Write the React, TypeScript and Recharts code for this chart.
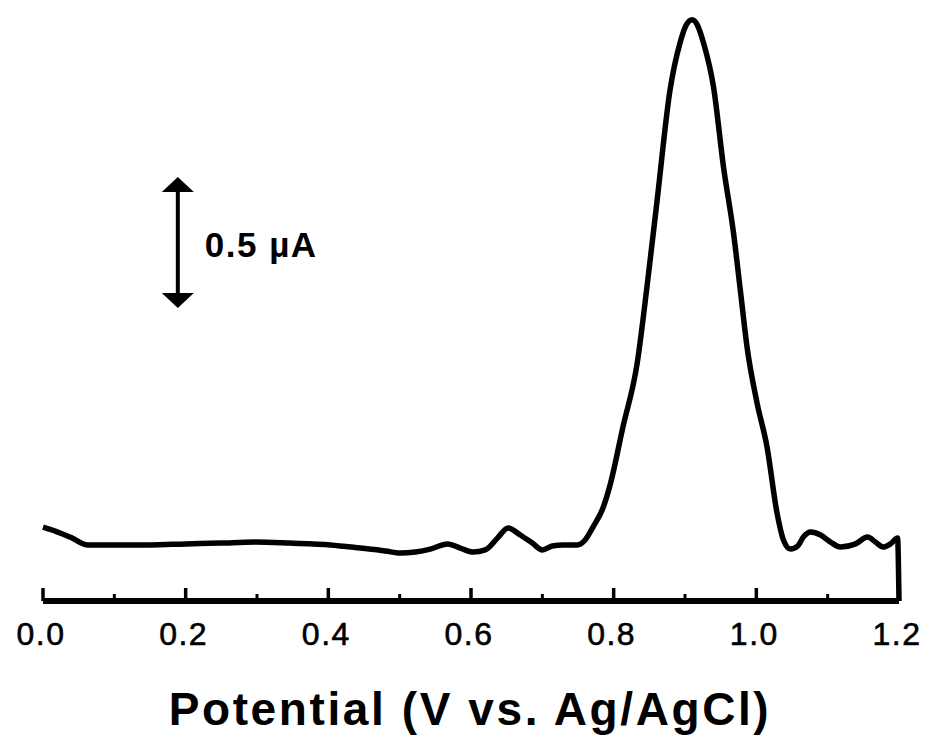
import { LineChart, Line, XAxis, YAxis, ReferenceLine } from 'recharts';

// potential (V vs Ag/AgCl) and current (µA, arbitrary offset)
const potential = [
  0.0, 0.017, 0.038, 0.063, 0.108, 0.15, 0.2, 0.248, 0.297, 0.346, 0.403, 0.445, 0.48, 0.501,
  0.522, 0.543, 0.567, 0.585, 0.603, 0.62, 0.637, 0.652, 0.669, 0.686, 0.7, 0.714, 0.729,
  0.749, 0.76, 0.771, 0.785, 0.795, 0.813, 0.833, 0.847, 0.861, 0.879, 0.893, 0.902, 0.91,
  0.917, 0.926, 0.94, 0.954, 0.968, 0.978, 0.987, 1.001, 1.015, 1.029, 1.038, 1.048, 1.058,
  1.066, 1.076, 1.09, 1.104, 1.118, 1.139, 1.156, 1.167, 1.178, 1.188, 1.198, 1.2,
];
const current = [
  0.282, 0.267, 0.244, 0.214, 0.214, 0.214, 0.218, 0.221, 0.225, 0.221, 0.214, 0.202, 0.191,
  0.183, 0.187, 0.198, 0.218, 0.202, 0.187, 0.195, 0.24, 0.279, 0.252, 0.221, 0.195, 0.21,
  0.214, 0.214, 0.233, 0.282, 0.355, 0.443, 0.664, 0.908, 1.206, 1.531, 1.95, 2.13, 2.2,
  2.218, 2.2, 2.13, 1.962, 1.656, 1.405, 1.176, 0.969, 0.756, 0.588, 0.336, 0.233, 0.198,
  0.21, 0.244, 0.263, 0.252, 0.225, 0.206, 0.218, 0.244, 0.225, 0.206, 0.218, 0.24, 0.0,
];

const xTicks = [0, 0.1, 0.2, 0.3, 0.4, 0.5, 0.6, 0.7, 0.8, 0.9, 1.0, 1.1, 1.2];
const majorTicks = [0, 0.2, 0.4, 0.6, 0.8, 1.0, 1.2];

// scale bar: 0.5 µA
const barX = 0.189;
const barFrom = 1.118;
const barTo = 1.618;
const barLabel = '0.5 µA';

const data = potential.map((v, i) => ({ v, i: current[i] }));

const font = '"Liberation Sans", Arial, sans-serif';

function Tick(props: any) {
  const { x, y, payload } = props;
  const val = payload.value;
  const major = majorTicks.some((m) => Math.abs(m - val) < 1e-6);
  return (
    <g>
      <line
        x1={x}
        x2={x}
        y1={y}
        y2={major ? y - 13 : y - 7}
        stroke="#000"
        strokeWidth={major ? 3.5 : 3}
      />
      {major && (
        <text
          x={x - 2}
          y={y + 44}
          textAnchor="middle"
          fontFamily={font}
          fontSize={32}
          letterSpacing={1.5}
          fill="#000"
          stroke="#000"
          strokeWidth={0.6}
        >
          {val.toFixed(1)}
        </text>
      )}
    </g>
  );
}

function ScaleBar(props: any) {
  const { x1, y1, y2 } = props;
  const top = Math.min(y1, y2);
  const bot = Math.max(y1, y2);
  const h = 15;
  const w = 16;
  return (
    <g>
      <line x1={x1} x2={x1} y1={top + h - 2} y2={bot - h + 2} stroke="#000" strokeWidth={4} />
      <polygon points={`${x1},${top} ${x1 - w},${top + h} ${x1 + w},${top + h}`} fill="#000" />
      <polygon points={`${x1},${bot} ${x1 - w},${bot - h} ${x1 + w},${bot - h}`} fill="#000" />
      <text
        x={x1 + 27}
        y={(top + bot) / 2 + 14}
        fontFamily={font}
        fontSize={35}
        fontWeight="bold"
        letterSpacing={1.5}
        fill="#000"
      >
        {barLabel}
      </text>
    </g>
  );
}

function AxisTitle(props: any) {
  const { viewBox } = props;
  return (
    <text
      x={viewBox.x + viewBox.width / 2 - 1}
      y={viewBox.y + 124}
      textAnchor="middle"
      fontFamily={font}
      fontSize={46}
      fontWeight="bold"
      letterSpacing={2.6}
      fill="#000"
    >
      Potential (V vs. Ag/AgCl)
    </text>
  );
}

export default function App() {
  return (
    <div style={{ position: 'absolute', left: 0, top: 0, background: '#fff' }}>
      <LineChart
        width={927}
        height={736}
        data={data}
        margin={{ top: 1, right: 28, bottom: 35, left: 43 }}
      >
        <XAxis
          dataKey="v"
          type="number"
          domain={[0, 1.2]}
          ticks={xTicks}
          interval={0}
          tickSize={0}
          tickMargin={0}
          height={100}
          axisLine={{ stroke: '#000', strokeWidth: 6 }}
          tick={<Tick />}
          label={<AxisTitle />}
        />
        <YAxis type="number" domain={[0, 2.29]} hide />
        <ReferenceLine
          segment={[
            { x: barX, y: barFrom },
            { x: barX, y: barTo },
          ]}
          shape={<ScaleBar />}
        />
        <Line
          type="monotone"
          dataKey="i"
          stroke="#000"
          strokeWidth={5.5}
          strokeLinejoin="round"
          dot={false}
          isAnimationActive={false}
        />
      </LineChart>
    </div>
  );
}
